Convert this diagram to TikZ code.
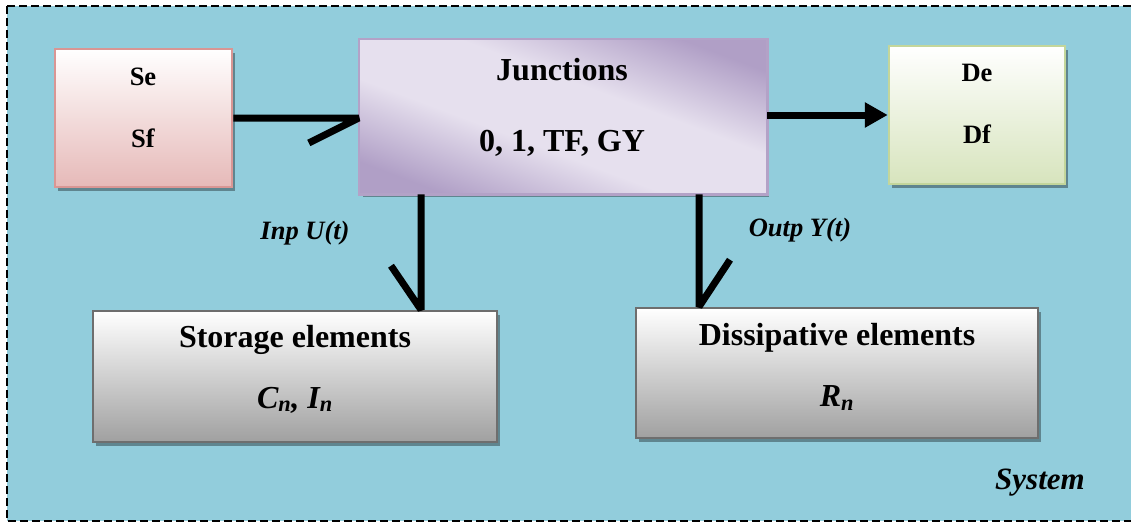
\documentclass[tikz,border=0pt]{standalone}
\usepackage{fontspec}
\setmainfont{Liberation Serif}
\usetikzlibrary{arrows.meta,calc}

\definecolor{sysbg}{HTML}{92CDDC}
\definecolor{srcline}{HTML}{D99694}
\definecolor{srcfill}{HTML}{E6B9B8}
\definecolor{jline}{HTML}{B3A2C7}
\definecolor{jlight}{HTML}{E6E0EE}
\definecolor{jdark}{HTML}{B09FC6}
\definecolor{dline}{HTML}{C3D69B}
\definecolor{dfill}{HTML}{D7E4BD}
\definecolor{eline}{HTML}{6E6E6E}
\definecolor{efill}{HTML}{A0A0A0}

% dark - light - dark band, mapped across the shaded path (25bp..75bp)
\pgfdeclareverticalshading{juncband}{100bp}{color(0bp)=(jdark); color(31bp)=(jdark); color(44bp)=(jlight); color(56bp)=(jlight); color(69bp)=(jdark); color(100bp)=(jdark)}

\tikzset{
  box/.style={rectangle, line width=2.5pt, inner sep=0pt, shading=axis, shading angle=0},
  shadowed/.style={preaction={fill=black, opacity=0.35, transform canvas={shift={(3pt,-4pt)}}}},
  srcbox/.style={box, shadowed, draw=srcline, top color=white, bottom color=srcfill, minimum width=177pt, minimum height=138pt},
  detbox/.style={box, shadowed, draw=dline, top color=white, bottom color=dfill, minimum width=176pt, minimum height=138pt},
  juncbox/.style={rectangle, shadowed, line width=2.5pt, inner sep=0pt, draw=jline, minimum width=406pt, minimum height=153pt},
  elembox/.style={box, shadowed, draw=eline, top color=white, bottom color=efill, minimum width=404pt, minimum height=131pt},
  bigtxt/.style={font=\bfseries\fontsize{32}{38}\selectfont, inner sep=0pt},
  smalltxt/.style={font=\bfseries\fontsize{26.5}{32}\selectfont, inner sep=0pt},
  lbl/.style={font=\bfseries\itshape\fontsize{26.5}{32}\selectfont, inner sep=0pt},
  bond/.style={line width=7pt, line join=bevel, line cap=butt},
}

\begin{document}
\begin{tikzpicture}[x=1pt, y=-1pt]
  \useasboundingbox (0,0) rectangle (1131,522);
  % system boundary (right side runs past the page edge)
  \fill[sysbg] (7,6) rectangle (1134,521);
  \draw[line width=2pt, dash pattern=on 8pt off 4pt] (7,6) rectangle (1134,521);

  % blocks
  \node[srcbox]  (src)  at (143.5,118) {};
  \node[juncbox] (junc) at (563,116.5) {};
  \node[detbox]  (det)  at (977,115) {};
  \node[elembox] (stor) at (295,376.5) {};
  \node[elembox, minimum width=402pt, minimum height=130pt] (diss) at (837,373) {};

  % diagonal band shading inside the junction block
  \begin{scope}
    \clip (junc.south west) rectangle (junc.north east);
    \begin{scope}[transform canvas={rotate around={-20.6:(junc.center)}}]
      \shade[shading=juncband] ($(junc.center)+(-260,-150)$) rectangle ($(junc.center)+(260,150)$);
    \end{scope}
  \end{scope}
  \draw[jline, line width=2.5pt] (junc.south west) rectangle (junc.north east);

  % block texts
  \node[smalltxt] (se) at (143,77) {Se};
  \node[smalltxt] (sf) at (143,138) {Sf};
  \node[bigtxt] (jt) at (562,70) {Junctions};
  \node[bigtxt] (jl) at (562,143) {0, 1, TF, GY};
  \node[smalltxt] (de) at (977,73) {De};
  \node[smalltxt] (df) at (977,134) {Df};
  \node[bigtxt] (st) at (295,340) {Storage elements};
  \node[bigtxt] (sl) at (295,400) {\itshape C\textsubscript{n}, I\textsubscript{n}};
  \node[bigtxt] (dt) at (837,338) {Dissipative elements};
  \node[bigtxt] (dl) at (837,398) {\itshape R\textsubscript{n}};

  % bonds
  \coordinate (ux) at (421,0);
  \coordinate (yx) at (699,0);
  \draw[bond] (src.east) -- (src.east -| junc.west) -- ++(-50,25);
  \draw[bond, -{Triangle[length=23pt, width=24pt]}] (junc.east |- det.west) -- (det.west);
  \draw[bond] (junc.south -| ux) -- (stor.north -| ux) -- ++(-30,-44);
  \draw[bond] (junc.south -| yx) -- (diss.north -| yx) -- ++(31,-47);

  % labels
  \node[lbl] (inp) at (305,233) {Inp U(t)};
  \node[lbl] (outp) at (800,230) {Outp Y(t)};
  \node[font=\bfseries\itshape\fontsize{31}{36}\selectfont, inner sep=0pt] (sys) at (1040,483) {System};
\end{tikzpicture}
\end{document}
